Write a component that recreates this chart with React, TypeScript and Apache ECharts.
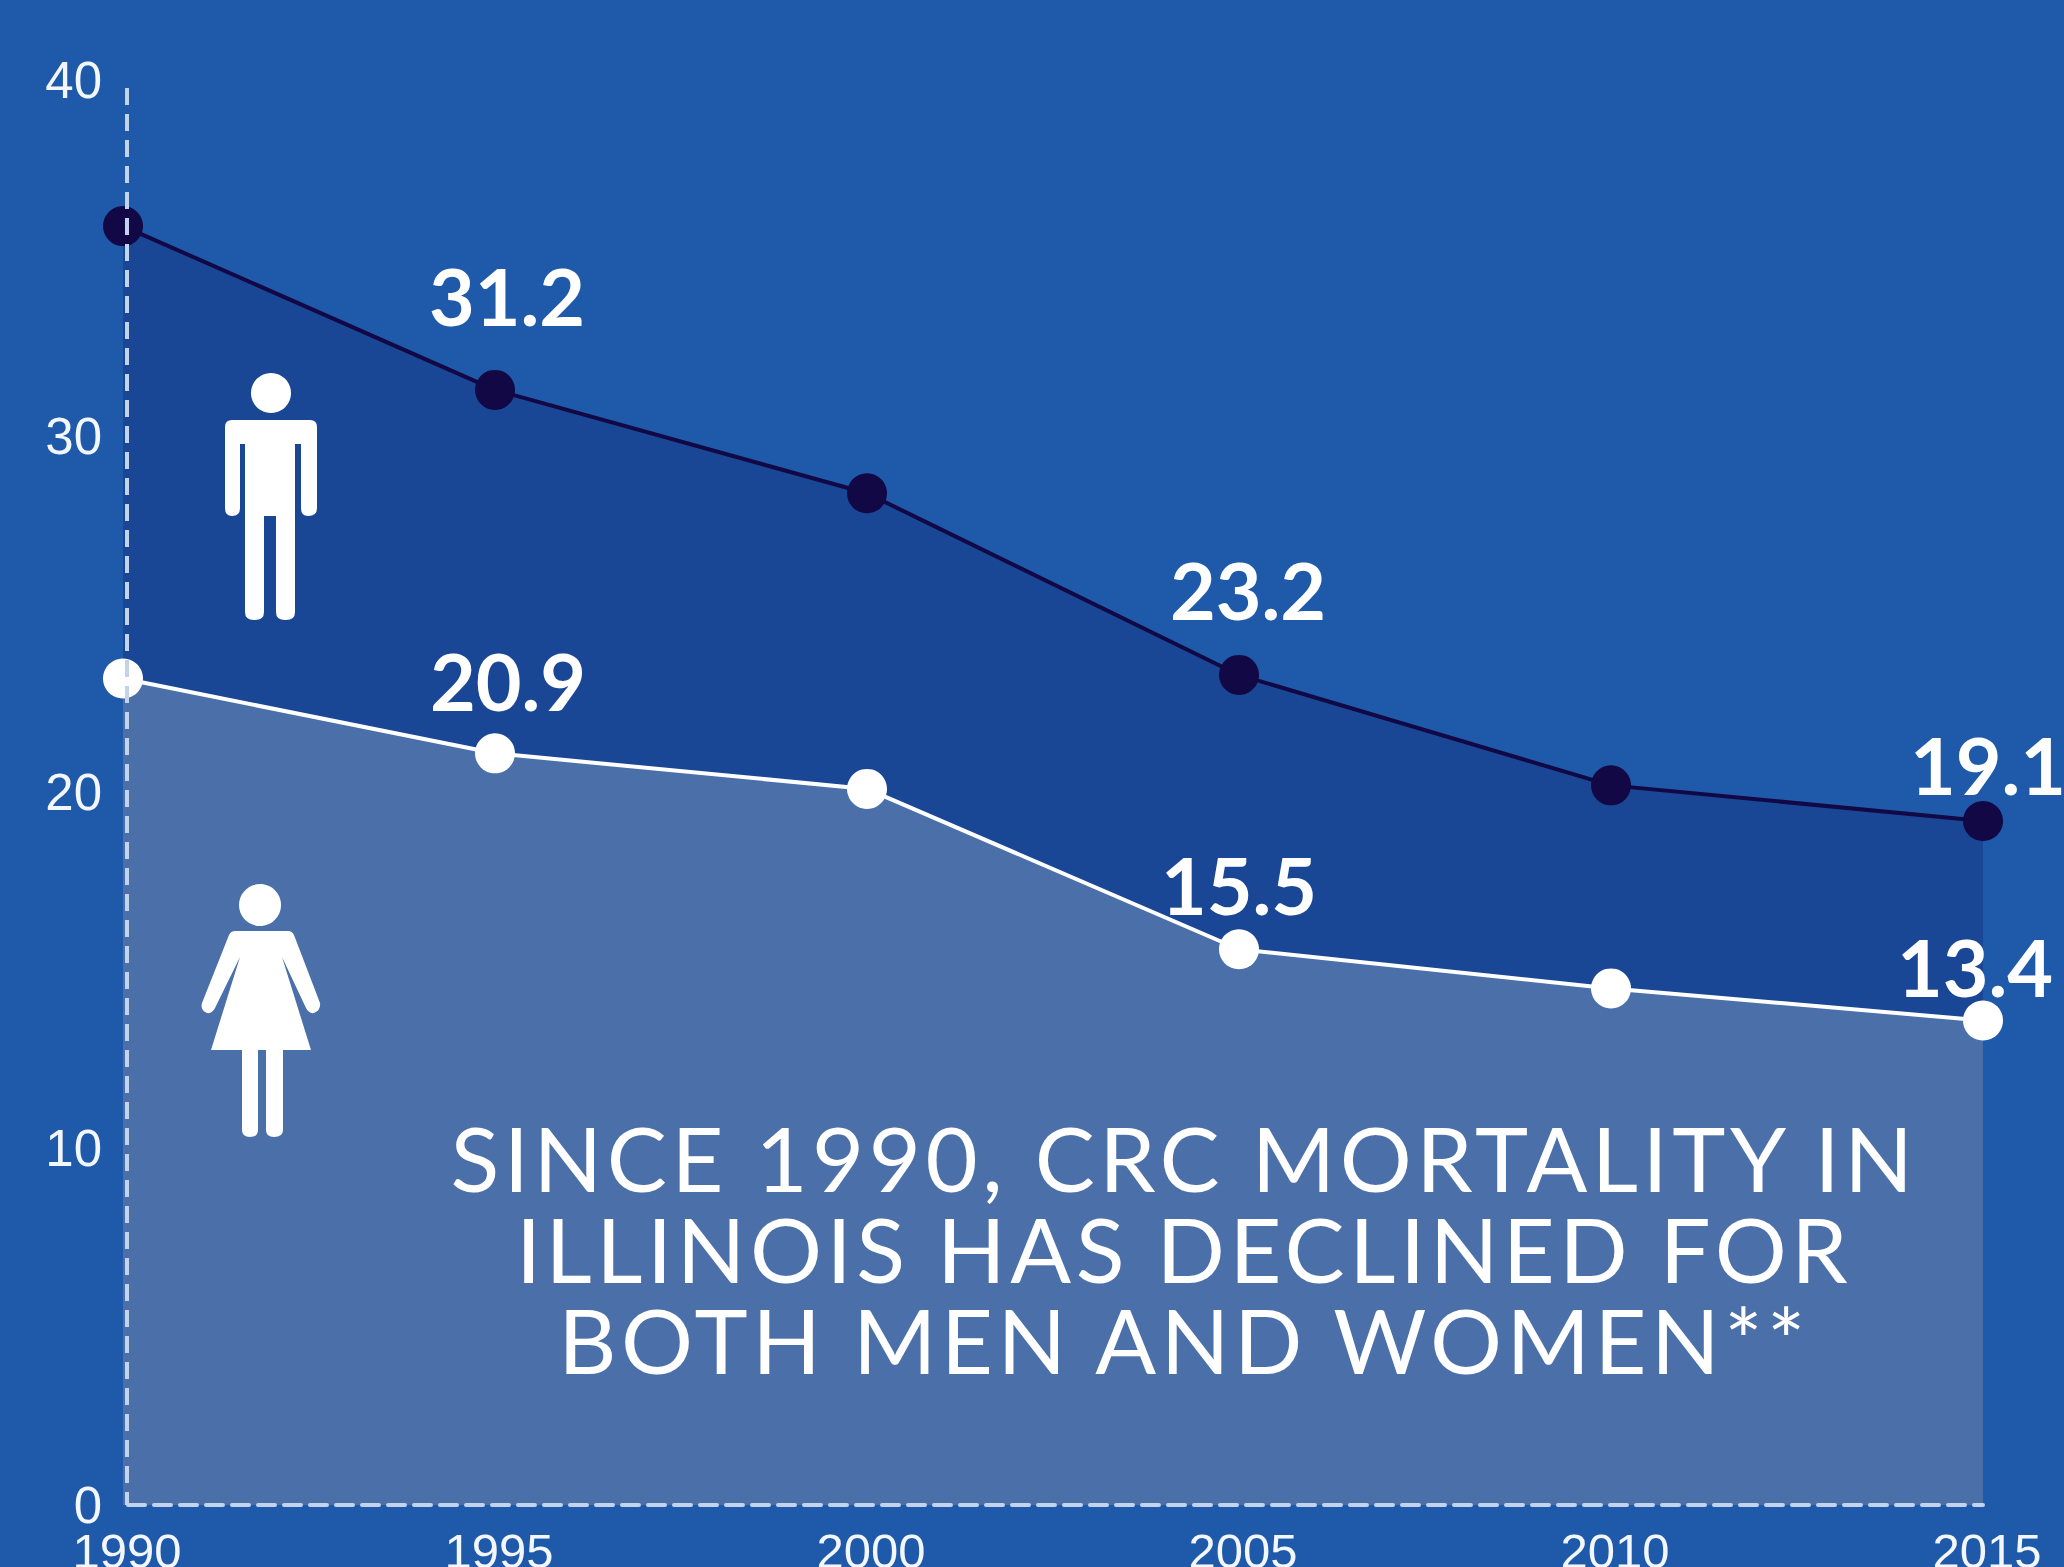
import React, { useEffect, useRef } from "react";
import * as echarts from "echarts";

const years = ["1990", "1995", "2000", "2005", "2010", "2015"];
const menValues = [35.9, 31.3, 28.4, 23.3, 20.2, 19.2];
const womenValues = [23.2, 21.1, 20.1, 15.6, 14.5, 13.6];
const menLabels = ["", "31.2", "", "23.2", "", "19.1"];
const womenLabels = ["", "20.9", "", "15.5", "", "13.4"];
const yTicks = [0, 10, 20, 30, 40];
const noteLines = [
  "SINCE 1990, CRC MORTALITY IN",
  "ILLINOIS HAS DECLINED FOR",
  "BOTH MEN AND WOMEN**",
];

const BG = "#1e5aa9";
const MEN_FILL = "#1a4795";
const WOMEN_FILL = "#4a6fa9";
const MEN_LINE = "#120845";
const DASH = "#c3d3ec";

const manBody =
  "M232 420 H310 Q317 420 317 427 V508 Q317 516 308 516 Q301 516 301 508 V444 H295 V612 Q295 620 286 620 H285 Q276 620 276 612 V516 H264 V612 Q264 620 255 620 H254 Q245 620 245 612 V444 H240 V508 Q240 516 232 516 Q225 516 225 508 V427 Q225 420 232 420 Z";
const womanBody =
  "M235 931 H288 Q292 931 294 935 L320 1003 Q321 1010 314 1013 Q309 1014 306 1008 L282 957 L311 1050 H283 V1130 Q283 1137 274 1137 Q266 1137 266 1130 V1050 H258 V1130 Q258 1137 250 1137 Q242 1137 242 1130 V1050 H211 L240 957 L215 1008 Q212 1014 207 1013 Q200 1010 202 1003 L229 935 Q231 931 235 931 Z";

echarts.graphic.registerShape("manBody", echarts.graphic.extendPath(manBody, {}));
echarts.graphic.registerShape("womanBody", echarts.graphic.extendPath(womanBody, {}));

const labelOffsets: Record<string, [number, number]> = {
  "31.2": [12, -15],
  "23.2": [9, -6],
  "19.1": [5, 23],
  "20.9": [13, 7],
  "15.5": [0, 15],
  "13.4": [-8, 25],
};

function pointData(values: number[], labels: string[]) {
  return values.map((value, i) => ({
    value,
    label: labels[i]
      ? {
          show: true,
          formatter: labels[i],
          position: "top" as const,
          distance: 20,
          offset: labelOffsets[labels[i]],
        }
      : { show: false },
  }));
}

const valueLabelStyle = {
  fontFamily: "Lato",
  fontWeight: 700,
  fontSize: 79,
  color: "#ffffff",
};

export default function App() {
  const ref = useRef<HTMLDivElement>(null);

  useEffect(() => {
    const chart = echarts.init(ref.current!, undefined, { renderer: "svg" });
    chart.setOption({
      animation: false,
      backgroundColor: BG,
      grid: {
        left: 123,
        right: 81,
        top: 80,
        bottom: 62,
        containLabel: false,
        outerBoundsMode: "none",
      },
      xAxis: {
        type: "category",
        data: years,
        boundaryGap: false,
        z: 6,
        axisLine: {
          show: true,
          lineStyle: { color: DASH, width: 4, type: [17, 9], dashOffset: 21 },
        },
        axisTick: { show: false },
        axisLabel: {
          color: "#ffffff",
          fontFamily: "Liberation Sans",
          fontSize: 49,
          margin: 21,
          padding: [0, 0, 0, 8],
          interval: 0,
          opacity: 0.95,
        },
      },
      yAxis: {
        type: "value",
        min: 0,
        max: 40,
        interval: 10,
        axisLine: { show: false },
        axisTick: { show: false },
        splitLine: { show: false },
        axisLabel: {
          color: "#ffffff",
          fontFamily: "Liberation Sans",
          fontSize: 51,
          margin: 21,
          opacity: 0.95,
          formatter: (v: number) => (yTicks.includes(v) ? String(v) : ""),
        },
      },
      series: [
        {
          type: "line",
          name: "Men",
          z: 2,
          data: pointData(menValues, menLabels),
          clip: false,
          symbol: "circle",
          symbolSize: 40,
          lineStyle: { color: MEN_LINE, width: 4 },
          itemStyle: { color: MEN_LINE },
          areaStyle: { color: MEN_FILL, opacity: 1 },
          label: valueLabelStyle,
        },
        {
          type: "line",
          name: "Women",
          z: 3,
          data: pointData(womenValues, womenLabels),
          clip: false,
          symbol: "circle",
          symbolSize: 40,
          lineStyle: { color: "#ffffff", width: 4 },
          itemStyle: { color: "#ffffff" },
          areaStyle: { color: WOMEN_FILL, opacity: 1 },
          label: valueLabelStyle,
        },
      ],
      graphic: [
        {
          type: "line",
          z: 10,
          silent: true,
          shape: { x1: 127, y1: 88, x2: 127, y2: 1505 },
          style: { stroke: DASH, lineWidth: 4, lineDash: [17, 9] },
        },
        {
          type: "circle",
          z: 10,
          shape: { cx: 271, cy: 393, r: 20 },
          style: { fill: "#fff" },
        },
        { type: "manBody", z: 10, x: 0, y: 0, style: { fill: "#fff" } },
        {
          type: "ellipse",
          z: 10,
          shape: { cx: 260, cy: 905, rx: 21, ry: 21 },
          style: { fill: "#fff" },
        },
        { type: "womanBody", z: 10, x: 0, y: 0, style: { fill: "#fff" } },
        ...noteLines.map((text, i) => ({
          type: "text",
          z: 10,
          x: 1184,
          y: 1157 + i * 91,
          style: {
            text,
            fill: "#ffffff",
            font: '400 90px "Lato"',
            textAlign: "center",
            textVerticalAlign: "middle",
          },
        })),
      ],
    });
    return () => chart.dispose();
  }, []);

  return (
    <>
      <style>{`svg text[style*="90px"] { letter-spacing: 4.5px; }`}</style>
      <div
        ref={ref}
        style={{ position: "fixed", left: 0, top: 0, width: 2064, height: 1567 }}
      />
    </>
  );
}
